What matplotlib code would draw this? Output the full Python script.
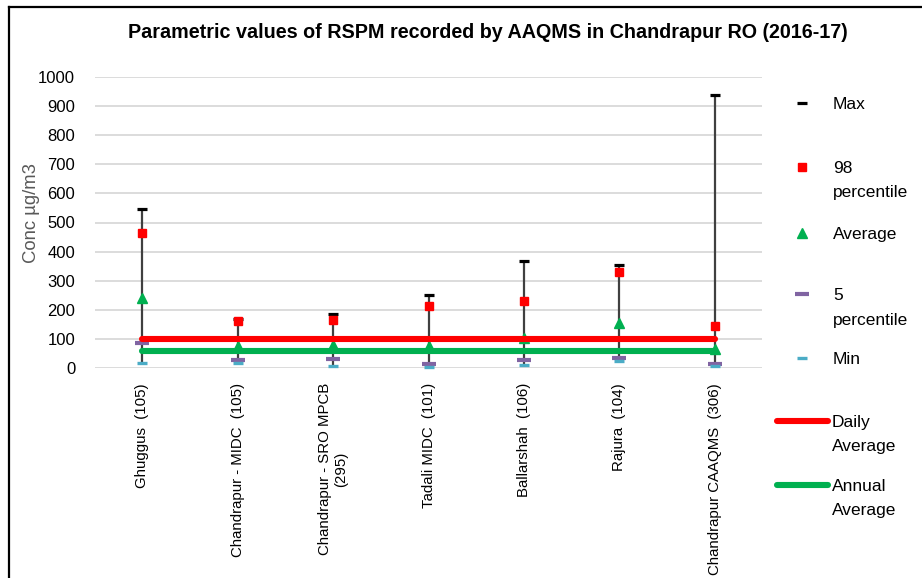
import matplotlib
matplotlib.use("Agg")
import matplotlib.pyplot as plt
from matplotlib.lines import Line2D

plt.rcParams['font.family'] = ['Liberation Sans', 'DejaVu Sans']

# ---- data ----
stations = ["Ghuggus  (105)", "Chandrapur - MIDC  (105)", "Chandrapur - SRO MPCB\n(295)",
            "Tadali MIDC  (101)", "Ballarshah  (106)", "Rajura  (104)", "Chandrapur CAAQMS  (306)"]
max_vals = [546, 168, 186, 252, 369, 354, 938]
p98_vals = [465, 161, 167, 215, 230, 330, 145]
avg_vals = [242, 76, 80, 76, 104, 154, 67]
p5_vals = [88, 28, 31, 16, 27, 36, 15]
min_vals = [17, 19, 9, 6, 10, 26, 8]
daily_std = [100] * 7
annual_std = [60] * 7
yticks = [0, 100, 200, 300, 400, 500, 600, 700, 800, 900, 1000]

W, H = 922, 578
fig = plt.figure(figsize=(W / 100, H / 100), dpi=100)

def fx(px):
    return px / W

def fy(py):
    return 1 - py / H

left, right, top, bottom = 94.6, 762.4, 76.7, 368.3
ax = fig.add_axes([fx(left), fy(bottom), fx(right) - fx(left), (bottom - top) / H])

x = list(range(len(stations)))

# vertical hi-lo lines
ax.vlines(x, min_vals, max_vals, color="#404040", lw=1.6, zorder=2, clip_on=False)

# standard lines
ax.plot(x, annual_std, color="#00B050", lw=4.4, solid_capstyle="round", zorder=3, clip_on=False)

ax.plot(x, max_vals, ls="none", marker="_", ms=7.5, mew=2.3, color="black", zorder=4, clip_on=False)
ax.plot(x, p98_vals, ls="none", marker="s", ms=6.2, color="#FF0000", zorder=4, clip_on=False)
ax.plot(x, avg_vals, ls="none", marker="^", ms=7.2, color="#00B050", zorder=4, clip_on=False)
ax.plot(x, p5_vals, ls="none", marker="_", ms=10.5, mew=3.0, color="#8064A2", zorder=4, clip_on=False)
ax.plot(x, min_vals, ls="none", marker="_", ms=7.2, mew=2.4, color="#4BACC6", zorder=4, clip_on=False)

ax.plot(x, daily_std, color="#FF0000", lw=4.4, solid_capstyle="round", zorder=5, clip_on=False)

ax.set_xlim(-0.5, len(stations) - 0.5)
ax.set_ylim(0, 1000)
ax.set_yticks(yticks)
ax.set_yticklabels([str(v) for v in yticks], fontsize=12, color="black")
ax.yaxis.grid(True, color="#D9D9D9", lw=1.3)
ax.set_axisbelow(True)
for s in ax.spines.values():
    s.set_visible(False)
ax.tick_params(axis="y", length=0, pad=14)
ax.set_xticks(x)
ax.set_xticklabels(stations, rotation=90, fontsize=10.8, va="top", ha="center",
                   multialignment="center")
ax.tick_params(axis="x", length=0, pad=10.5)

# title
fig.text(fx(488), fy(33), "Parametric values of RSPM recorded by AAQMS in Chandrapur RO (2016-17)",
         ha="center", va="center", fontsize=14.2, fontweight="bold")

# y label
fig.text(fx(31), fy(213), "Conc \u00b5g/m3", rotation=90, ha="center", va="center",
         fontsize=13.3, color="#595959")

# border
fig.add_artist(Line2D([fx(9), fx(9)], [fy(7), 0], color="black", lw=1.6, transform=fig.transFigure))
fig.add_artist(Line2D([fx(9), 1], [fy(7), fy(7)], color="black", lw=1.6, transform=fig.transFigure))

# legend (manual, Excel-style)
mx, tx = 801.5, 833
fs_leg = 12.5
gap = 24.5

def leg_text(xp, py, lines):
    for i, ln in enumerate(lines):
        fig.text(fx(xp), fy(py + 6 + i * gap), ln, ha="left", va="baseline", fontsize=fs_leg)

leg_items = [
    (103, dict(marker="_", ms=7.5, mew=2.3, color="black"), ["Max"]),
    (167, dict(marker="s", ms=6.2, color="#FF0000"), ["98", "percentile"]),
    (233, dict(marker="^", ms=7.2, color="#00B050"), ["Average"]),
    (294, dict(marker="_", ms=10.5, mew=3.0, color="#8064A2"), ["5", "percentile"]),
    (358, dict(marker="_", ms=7.2, mew=2.4, color="#4BACC6"), ["Min"]),
]
for py, kw, lab in leg_items:
    fig.add_artist(Line2D([fx(mx)], [fy(py)], ls="none", transform=fig.transFigure, **kw))
    leg_text(tx, py, lab)

for py, col, lab in [(421, "#FF0000", ["Daily", "Average"]), (485, "#00B050", ["Annual", "Average"])]:
    fig.add_artist(Line2D([fx(777), fx(828)], [fy(py), fy(py)], color=col, lw=4.4,
                          solid_capstyle="round", transform=fig.transFigure))
    leg_text(tx - 1, py, lab)

fig.savefig("out.png", dpi=100)
